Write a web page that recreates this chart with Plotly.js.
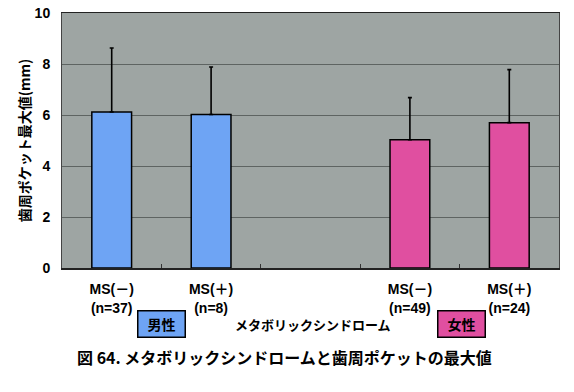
<!DOCTYPE html>
<html><head><meta charset="utf-8">
<script src="https://cdn.plot.ly/plotly-3.0.1.min.js"></script>
<style>html,body{margin:0;padding:0;background:#fff}</style>
</head><body>
<div id="chart" style="width:574px;height:392px"></div>
<script>
const categories = ["MS(－)<br>(n=37)", "MS(＋)<br>(n=8)", " ", "MS(－)<br>(n=49)", "MS(＋)<br>(n=24)"];
const maleCats = ["MS(－)<br>(n=37)", "MS(＋)<br>(n=8)"];
const maleMeans = [6.12, 6.02];
const maleSD = [2.51, 1.86];
const femaleCats = ["MS(－)<br>(n=49)", "MS(＋)<br>(n=24)"];
const femaleMeans = [5.03, 5.70];
const femaleSD = [1.65, 2.08];
const yTicks = [0, 2, 4, 6, 8, 10];

const F = "Arial, 'Liberation Sans', 'Noto Sans CJK JP', sans-serif";
const J = "'Noto Sans CJK JP', sans-serif";

const traces = [
  {type:'bar', x: maleCats, y: maleMeans, width: 0.4,
   marker:{color:'#6ea4f4', line:{color:'#000', width:1.5}},
   error_y:{type:'data', symmetric:false, array: maleSD, arrayminus: maleSD.map(()=>0), color:'#000', thickness:1.6, width:2},
   hoverinfo:'none'},
  {type:'bar', x: femaleCats, y: femaleMeans, width: 0.4,
   marker:{color:'#e04fa0', line:{color:'#000', width:1.5}},
   error_y:{type:'data', symmetric:false, array: femaleSD, arrayminus: femaleSD.map(()=>0), color:'#000', thickness:1.6, width:2},
   hoverinfo:'none'}
];

const layout = {
  width:574, height:392,
  margin:{l:62, r:15, t:13, b:124},
  paper_bgcolor:'#fff', plot_bgcolor:'#9ea5a3',
  showlegend:false, barmode:'overlay',
  xaxis:{type:'category', categoryorder:'array', categoryarray: categories,
    range:[-0.5, 4.5], showgrid:false, ticks:'inside', ticklen:4, tickcolor:'#333',
    tickson:'boundaries', showline:true, linecolor:'#222', linewidth:1.5, mirror:true,
    ticklabelstandoff:8,
    tickfont:{family:F, size:14, color:'#000', weight:'bold'}},
  yaxis:{range:[0,10], tickvals:yTicks, showgrid:true, gridcolor:'#5e6462', gridwidth:1,
    showline:true, linecolor:'#444', linewidth:1, mirror:true, zeroline:false,
    ticks:'', ticklabelstandoff:8,
    tickfont:{family:F, size:14, color:'#000', weight:'bold'},
    title:{text:'歯周ポケット最大値(mm)', font:{family:J, size:14, color:'#000', weight:'bold'}, standoff:0}},
  annotations:[
    {xref:'paper', yref:'paper', x:0.201, y:-0.2196, text:'男性', showarrow:false,
     font:{family:J, size:14, color:'#000', weight:'bold'}, bgcolor:'#6ea4f4', bordercolor:'#000',
     borderwidth:1.5, width:44, height:23, xanchor:'center', yanchor:'middle'},
    {xref:'paper', yref:'paper', x:0.803, y:-0.2196, text:'女性', showarrow:false,
     font:{family:J, size:14, color:'#000', weight:'bold'}, bgcolor:'#e04fa0', bordercolor:'#000',
     borderwidth:1.5, width:44, height:23, xanchor:'center', yanchor:'middle'},
    {xref:'paper', yref:'paper', x:0.505, y:-0.222, text:'メタボリックシンドローム', showarrow:false,
     font:{family:J, size:13, color:'#000', weight:'bold'}, xanchor:'center', yanchor:'middle'},
    {xref:'paper', yref:'paper', x:0.447, y:-0.35, text:'図 64. メタボリックシンドロームと歯周ポケットの最大値', showarrow:false,
     font:{family:J, size:16, color:'#000', weight:'bold'}, xanchor:'center', yanchor:'middle'}
  ]
};

Plotly.newPlot('chart', traces, layout, {displayModeBar:false, staticPlot:true});
</script>
</body></html>
